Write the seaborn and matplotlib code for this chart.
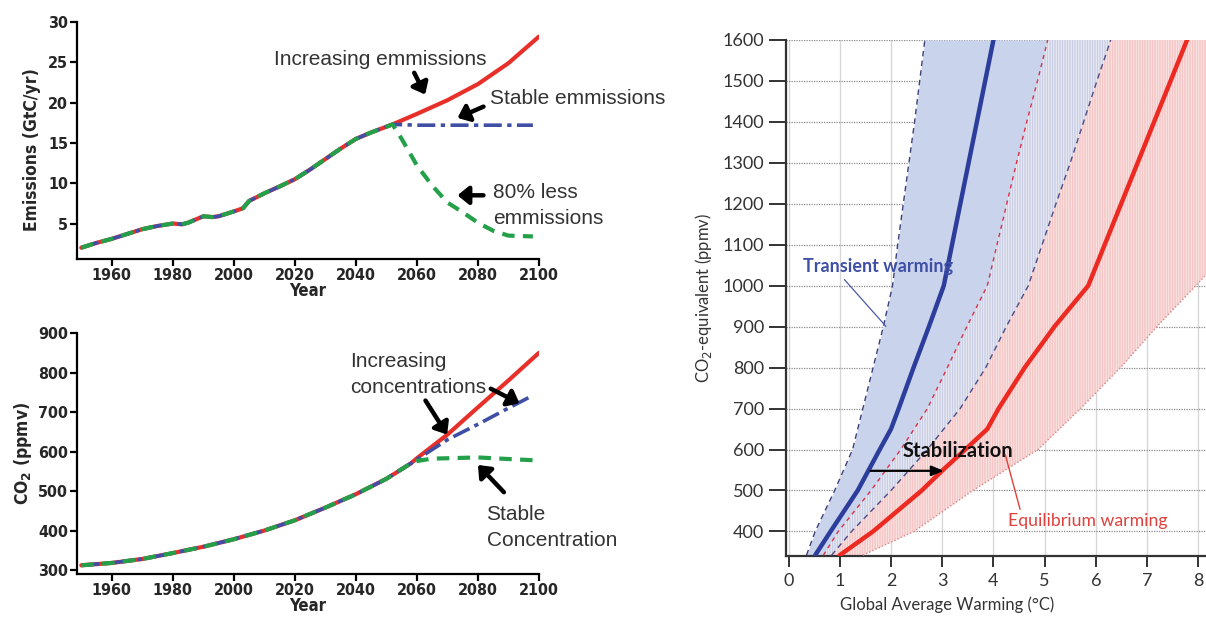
import numpy as np
import pandas as pd
import matplotlib
matplotlib.use("Agg")
import matplotlib.pyplot as plt
from matplotlib import font_manager
import seaborn as sns

# ---------------- data ----------------
# Emissions (GtC/yr)
hist_years = [1950, 1955, 1960, 1965, 1970, 1975, 1980, 1983, 1985, 1990, 1993, 1995,
              2000, 2003, 2005, 2010, 2015, 2020, 2025, 2030, 2035, 2040, 2045, 2052]
hist_emis = [2.0, 2.6, 3.1, 3.7, 4.3, 4.7, 5.0, 4.9, 5.1, 5.9, 5.8, 5.9,
             6.5, 6.9, 7.8, 8.75, 9.6, 10.5, 11.7, 13.0, 14.3, 15.5, 16.3, 17.3]
incr_years = [2052, 2060, 2070, 2080, 2090, 2100]
incr_emis = [17.3, 18.6, 20.3, 22.3, 24.9, 28.2]
stab_years = [2052, 2060, 2070, 2080, 2090, 2098]
stab_emis = [17.2, 17.2, 17.2, 17.2, 17.2, 17.2]
less_years = [2052, 2055, 2060, 2065, 2070, 2075, 2080, 2085, 2090, 2098]
less_emis = [17.3, 15.5, 12.2, 9.7, 7.6, 6.4, 5.1, 4.1, 3.5, 3.4]

# Concentrations (ppmv)
co2_hist_years = [1950, 1960, 1970, 1980, 1990, 2000, 2010, 2020, 2030, 2040, 2050, 2058]
co2_hist = [312, 318, 328, 343, 359, 378, 400, 426, 458, 492, 531, 570]
co2_incr_years = [2058, 2060, 2070, 2080, 2090, 2100]
co2_incr = [570, 583, 643, 712, 780, 850]
co2_mid_years = [2058, 2060, 2070, 2080, 2090, 2098]
co2_mid = [570, 580, 630, 669, 710, 742]
co2_stab_years = [2058, 2060, 2065, 2070, 2080, 2090, 2098]
co2_stab = [570, 576, 582, 583, 585, 581, 578]

# Stabilization panel: CO2-equivalent levels and warming bounds (deg C)
levels = [342, 400, 500, 600, 700, 800, 900, 1000, 1100, 1200, 1300, 1400, 1500, 1600]
transient_low = [0.35, 0.52, 0.9, 1.25, 1.45, 1.65, 1.85, 2.03, 2.13, 2.24, 2.35, 2.46, 2.56, 2.66]
transient_high = [0.84, 1.23, 2.0, 2.71, 3.35, 3.85, 4.25, 4.68, 4.95, 5.22, 5.5, 5.76, 6.02, 6.29]
equilibrium_low = [0.68, 0.97, 1.61, 2.19, 2.71, 3.1, 3.48, 3.88, 4.07, 4.26, 4.45, 4.65, 4.86, 5.06]
equilibrium_high = [1.45, 2.45, 3.6, 4.87, 5.7, 6.48, 7.19, 7.95, 8.7, 9.4, 10.1, 10.8, 11.5, 12.2]
transient_best_ppm = [342, 400, 500, 600, 650, 700, 800, 900, 1000, 1600]
transient_best = [0.52, 0.82, 1.35, 1.78, 2.0, 2.15, 2.44, 2.74, 3.03, 4.0]
equilibrium_best_ppm = [342, 400, 500, 552, 600, 650, 700, 800, 900, 1000, 1600]
equilibrium_best = [1.0, 1.65, 2.6, 3.03, 3.45, 3.88, 4.1, 4.61, 5.19, 5.85, 7.78]

warming_ticks = [0, 1, 2, 3, 4, 5, 6, 7, 8]
ppm_ticks = [400, 500, 600, 700, 800, 900, 1000, 1100, 1200, 1300, 1400, 1500, 1600]
year_ticks = [1960, 1980, 2000, 2020, 2040, 2060, 2080, 2100]
emis_ticks = [5, 10, 15, 20, 25, 30]
co2_ticks = [300, 400, 500, 600, 700, 800, 900]

# ---------------- style ----------------
sns.set_theme(style="white")
available = {f.name for f in font_manager.fontManager.ttflist}


def pick(*names):
    for n in names:
        if n in available:
            return n
    return "DejaVu Sans"


narrow = pick("Liberation Sans Narrow", "DejaVu Sans")
light = pick("Liberation Sans", "DejaVu Sans")
round_font = pick("Lato", "Open Sans", "DejaVu Sans")
plt.rcParams["font.family"] = [narrow, "DejaVu Sans"]
plt.rcParams["hatch.linewidth"] = 0.5

RED = "#e8302a"
BLUE = "#3f4fa6"
GREEN = "#25a04a"

fig = plt.figure(figsize=(12.06, 6.18), dpi=100)
W, H = 1206, 618


def box(x0, y0, x1, y1):
    return [x0 / W, 1 - y1 / H, (x1 - x0) / W, (y1 - y0) / H]


ax1 = fig.add_axes(box(77, 22, 539, 259))
ax2 = fig.add_axes(box(77, 333, 539, 574))
ax3 = fig.add_axes(box(786, 40, 1206, 556))

# ---------------- emissions panel ----------------
full_incr = pd.DataFrame({"year": hist_years + incr_years[1:], "v": hist_emis + incr_emis[1:]})
full_stab = pd.DataFrame({"year": hist_years + stab_years[1:], "v": hist_emis + stab_emis[1:]})
full_less = pd.DataFrame({"year": hist_years + less_years[1:], "v": hist_emis + less_emis[1:]})
sns.lineplot(data=full_incr, x="year", y="v", ax=ax1, color=RED, lw=3.0, sort=False)
sns.lineplot(data=full_stab, x="year", y="v", ax=ax1, color=BLUE, lw=2.6, sort=False,
             linestyle=(0, (5, 1.5, 1.2, 1.5)))
sns.lineplot(data=full_less, x="year", y="v", ax=ax1, color=GREEN, lw=3.0, sort=False,
             linestyle=(0, (3, 2)))

# ---------------- concentration panel ----------------
c_incr = pd.DataFrame({"year": co2_hist_years + co2_incr_years[1:], "v": co2_hist + co2_incr[1:]})
c_mid = pd.DataFrame({"year": co2_hist_years + co2_mid_years[1:], "v": co2_hist + co2_mid[1:]})
c_stab = pd.DataFrame({"year": co2_hist_years + co2_stab_years[1:], "v": co2_hist + co2_stab[1:]})
sns.lineplot(data=c_incr, x="year", y="v", ax=ax2, color=RED, lw=3.0, sort=False)
sns.lineplot(data=c_mid, x="year", y="v", ax=ax2, color=BLUE, lw=2.6, sort=False,
             linestyle=(0, (5, 1.5, 1.2, 1.5)))
sns.lineplot(data=c_stab, x="year", y="v", ax=ax2, color=GREEN, lw=3.0, sort=False,
             linestyle=(0, (3, 2)))

bold_kw = dict(fontweight="bold", fontstretch="condensed")
panel_specs = [(ax1, emis_ticks, (0.6, 30), "Emissions (GtC/yr)", (-0.078, 0.46)),
               (ax2, co2_ticks, (290, 900), "CO$_\\mathbf{2}$ (ppmv)", (-0.094, 0.5))]
for ax, yt, ylim, ylabel, lpos in panel_specs:
    ax.set_xlim(1948.6, 2100)
    ax.set_ylim(*ylim)
    ax.set_xticks(year_ticks)
    ax.set_yticks(yt)
    ax.set_xlabel("Year", fontsize=12, labelpad=-1, **bold_kw)
    ax.set_ylabel(ylabel, fontsize=12.5, **bold_kw)
    ax.yaxis.set_label_coords(*lpos)
    for s in ["top", "right"]:
        ax.spines[s].set_visible(False)
    for s in ["left", "bottom"]:
        ax.spines[s].set_color("black")
        ax.spines[s].set_linewidth(1.6)
    ax.tick_params(axis="both", direction="out", length=5, width=1.6, color="black",
                   labelsize=11.5, pad=1.5, left=True, bottom=True)
    for lab in ax.get_xticklabels() + ax.get_yticklabels():
        lab.set_fontweight("bold")
        lab.set_fontstretch("condensed")
    ax.set_facecolor("white")

txt_kw = dict(fontsize=15, color="#333333", family=[light, "DejaVu Sans"])
arrow_kw = dict(arrowstyle="-|>,head_width=0.45,head_length=0.55", lw=3.2, color="black",
                shrinkA=0, shrinkB=0)
ax1.text(2013.2, 25.3, "Increasing emmissions", va="center", ha="left", **txt_kw)
ax1.text(2084, 20.5, "Stable emmissions", va="center", ha="left", **txt_kw)
ax1.text(2085, 8.8, "80% less", va="center", ha="left", **txt_kw)
ax1.text(2085, 5.6, "emmissions", va="center", ha="left", **txt_kw)
ax1.annotate("", xy=(2062.7, 21.0), xytext=(2059.1, 23.7), arrowprops=arrow_kw)
ax1.annotate("", xy=(2073.3, 18.1), xytext=(2081.8, 19.5), arrowprops=arrow_kw)
ax1.annotate("", xy=(2073.3, 8.5), xytext=(2081.8, 8.5), arrowprops=arrow_kw)

ax2.text(2038.2, 828, "Increasing", va="center", ha="left", **txt_kw)
ax2.text(2038.2, 762, "concentrations", va="center", ha="left", **txt_kw)
ax2.text(2082.8, 440, "Stable", va="center", ha="left", **txt_kw)
ax2.text(2082.8, 376, "Concentration", va="center", ha="left", **txt_kw)
ax2.annotate("", xy=(2069.9, 643), xytext=(2062.8, 729), arrowprops=arrow_kw)
ax2.annotate("", xy=(2093.6, 722), xytext=(2084.2, 759), arrowprops=arrow_kw)
ax2.annotate("", xy=(2080.0, 566), xytext=(2088.5, 497), arrowprops=arrow_kw)

# ---------------- stabilization panel ----------------
ax3.set_axisbelow(True)
ax3.fill_betweenx(levels, transient_low, equilibrium_low, color="#c9d3ec", lw=0, zorder=1)
ax3.fill_betweenx(levels, equilibrium_low, transient_high, facecolor="#eef0f7",
                  edgecolor="#b9bedb", hatch="|" * 10, lw=0, zorder=1)
ax3.fill_betweenx(levels, transient_high, equilibrium_high, facecolor="#fce9e9",
                  edgecolor="#f2b4b4", hatch="|" * 10, lw=0, zorder=1)

band = dict(ax=ax3, sort=False, lw=1.0, zorder=3)
sns.lineplot(x=transient_low, y=levels, color="#3b3f78", linestyle=(0, (4, 3)), **band)
sns.lineplot(x=transient_high, y=levels, color="#4a4c86", linestyle=(0, (4, 3)), **band)
sns.lineplot(x=equilibrium_low, y=levels, color="#d8324a", linestyle=(0, (3, 3)), **band)
sns.lineplot(x=equilibrium_high, y=levels, color="#d98888", linestyle=(0, (1, 1.5)), **band)
sns.lineplot(x=transient_best, y=transient_best_ppm, ax=ax3, sort=False, color="#2c3d9c",
             lw=3.2, zorder=4)
sns.lineplot(x=equilibrium_best, y=equilibrium_best_ppm, ax=ax3, sort=False, color="#ec2a22",
             lw=3.2, zorder=4)

ax3.set_xlim(-0.05, 8.15)
ax3.set_ylim(340, 1600)
ax3.set_xticks(warming_ticks)
ax3.set_yticks(ppm_ticks)
ax3.grid(axis="y", color="#8a8a8a", linestyle=(0, (1, 1)), lw=0.9)
ax3.grid(axis="x", color="#d6d6d6", linestyle="-", lw=0.9)
for s in ["top", "right"]:
    ax3.spines[s].set_visible(False)
for s in ["left", "bottom"]:
    ax3.spines[s].set_color("#333333")
    ax3.spines[s].set_linewidth(1.6)
ax3.tick_params(axis="y", direction="out", length=12, width=1.4, color="#333333",
                labelsize=13, labelcolor="#333333", pad=4, left=True)
ax3.tick_params(axis="x", direction="out", length=8, width=1.4, color="#333333",
                labelsize=13, labelcolor="#333333", pad=4, bottom=True)
for lab in ax3.get_xticklabels() + ax3.get_yticklabels():
    lab.set_family([round_font, "DejaVu Sans"])
ax3.set_ylabel("CO$_2$-equivalent (ppmv)", fontsize=12, color="#333333",
               family=[round_font, "DejaVu Sans"], labelpad=6)
ax3.text(3.1, -0.095, "Global Average Warming (\u00b0C)", transform=ax3.get_xaxis_transform(),
         ha="center", va="center", fontsize=12, color="#333333",
         family=[round_font, "DejaVu Sans"])

ax3.annotate("", xy=(3.03, 548), xytext=(1.6, 548),
             arrowprops=dict(arrowstyle="-|>,head_width=0.25,head_length=0.6", lw=1.6,
                             color="black", shrinkA=0, shrinkB=0), zorder=6)
ax3.text(2.22, 597, "Stabilization", fontsize=14.5, fontweight="bold", color="#111111",
         ha="left", va="center", family=[round_font, "DejaVu Sans"], zorder=6)
ax3.text(0.28, 1046, "Transient warming", fontsize=13, fontweight="bold", color="#3f4fa6",
         ha="left", va="center", family=[round_font, "DejaVu Sans"], zorder=6)
ax3.plot([1.09, 1.9], [1015, 901], color="#4a5aa8", lw=0.9, zorder=6)
ax3.text(4.29, 425, "Equilibrium warming", fontsize=12.7, color="#e0403c",
         ha="left", va="center", family=[round_font, "DejaVu Sans"], zorder=6)
ax3.plot([4.23, 4.52], [588, 454], color="#e0403c", lw=1.0, zorder=6)

fig.savefig("out.png", dpi=100, facecolor="white")
